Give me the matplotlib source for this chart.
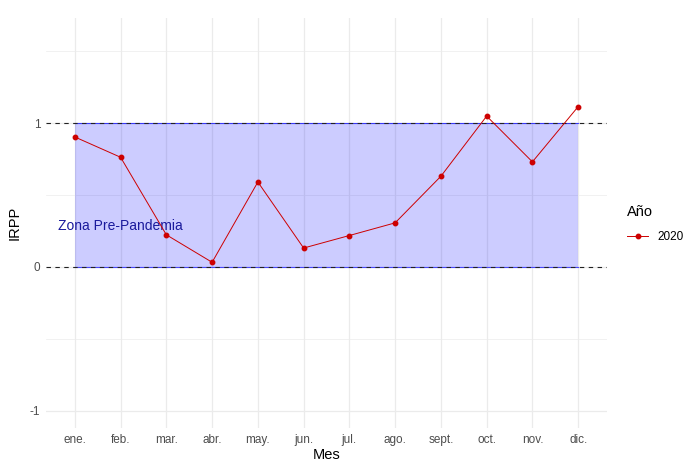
import numpy as np
import matplotlib
matplotlib.use("Agg")
import matplotlib.pyplot as plt
from matplotlib.lines import Line2D

plt.rcParams['font.family'] = ['Liberation Sans', 'DejaVu Sans']
plt.rcParams['axes.unicode_minus'] = False

meses = ['ene.', 'feb.', 'mar.', 'abr.', 'may.', 'jun.', 'jul.', 'ago.', 'sept.', 'oct.', 'nov.', 'dic.']
irpp_2020 = [0.903, 0.762, 0.223, 0.032, 0.590, 0.131, 0.218, 0.306, 0.630, 1.048, 0.730, 1.114]
zona_min, zona_max = 0, 1
y_ticks = [-1, 0, 1]
y_minor = [-0.5, 0.5, 1.5]

W, H = 684, 461
fig = plt.figure(figsize=(W / 100, H / 100), dpi=100)
ax = fig.add_axes([46 / W, (H - 428) / H, (607 - 46) / W, (428 - 18) / H])

x = np.arange(1, len(meses) + 1)

# grid like theme_minimal
for v in y_minor:
    ax.axhline(v, color='#EBEBEB', lw=0.5, zorder=0)
for v in y_ticks:
    ax.axhline(v, color='#EBEBEB', lw=0.9, zorder=0)
for v in x:
    ax.axvline(v, color='#EBEBEB', lw=0.9, zorder=0)

# pre-pandemic zone
ax.fill_between([x[0], x[-1]], zona_min, zona_max, color='blue', alpha=0.2, lw=0, zorder=1)
ax.plot([x[0], x[-1]], [zona_min, zona_min], color='blue', lw=0.8, alpha=0.7, zorder=2)
ax.plot([x[0], x[-1]], [zona_max, zona_max], color='blue', lw=0.8, alpha=0.7, zorder=2)
for v in (zona_min, zona_max):
    ax.axhline(v, color='#222222', lw=0.8, ls=(0, (4, 4)), zorder=3)

ax.text(2, 0.285, 'Zona Pre-Pandemia', color='#1a1a9c', fontsize=10,
        ha='center', va='center', zorder=4)

ax.plot(x, irpp_2020, color='#CD0000', lw=0.7, marker='o', ms=3.2, zorder=5)

ax.set_xlim(0.37, 12.63)
ax.set_ylim(-1.12, 1.73)
ax.set_xticks(x)
ax.set_xticklabels(meses)
ax.set_yticks(y_ticks)
ax.tick_params(length=0, labelsize=8.5, labelcolor='#4D4D4D', pad=4)
for s in ax.spines.values():
    s.set_visible(False)
ax.set_xlabel('Mes', fontsize=10.5, labelpad=2)
ax.set_ylabel('IRPP', fontsize=10.5, labelpad=6)

h = Line2D([], [], color='#CD0000', lw=0.7, marker='o', ms=3.2)
leg = fig.legend([h], ['2020'], title='Año', loc='upper left',
                 bbox_to_anchor=(614 / W, 1 - 192 / H), frameon=False,
                 fontsize=8.5, title_fontsize=10.5, handlelength=1.8,
                 handletextpad=0.8, labelspacing=0.3, borderpad=0.6)
leg._legend_box.align = 'left'
leg._legend_box.sep = 9

fig.savefig('out.png', dpi=100)
